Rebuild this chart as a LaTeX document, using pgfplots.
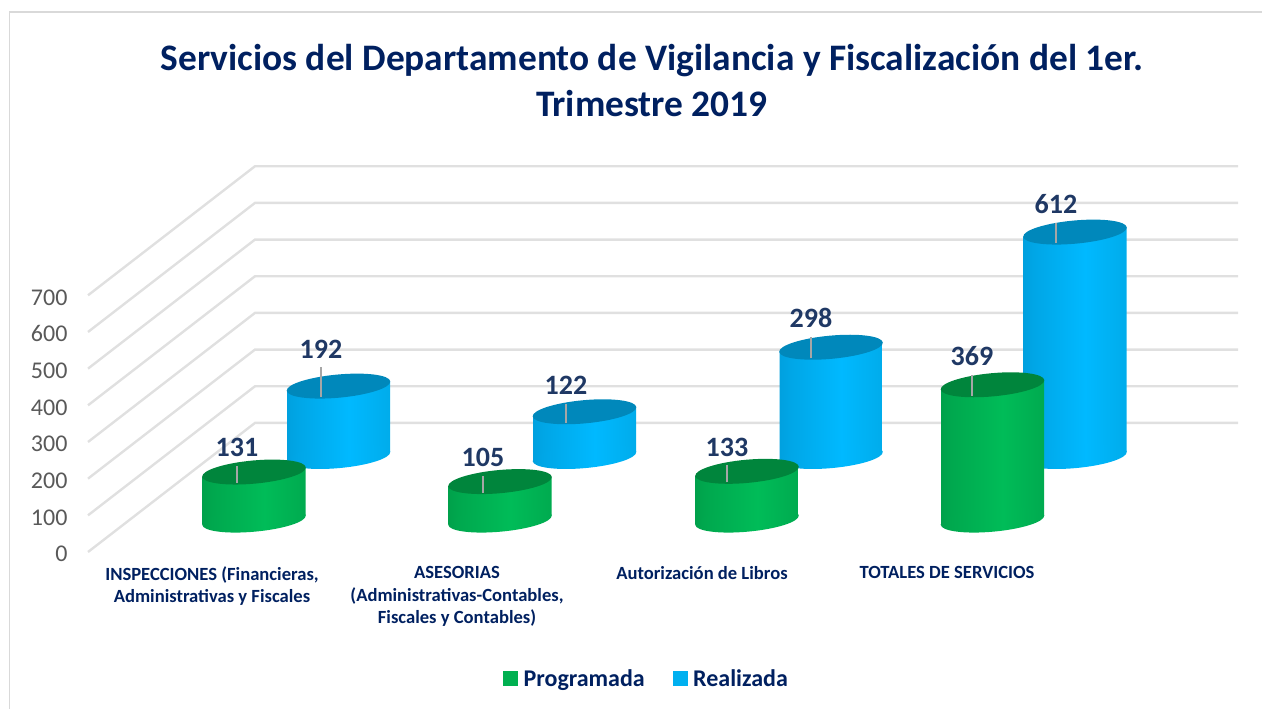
\documentclass[border=0pt]{standalone}
\usepackage{pgfplots}
\usepackage{pgfplotstable}
\usepackage{fontspec}
\setmainfont{Carlito}
\pgfplotsset{compat=1.18}
\definecolor{navy}{HTML}{002060}
\definecolor{lab}{HTML}{1F3864}
\definecolor{tickg}{HTML}{595959}
\definecolor{gridg}{HTML}{E0E0E0}
\definecolor{legG}{HTML}{00B050}
\definecolor{legB}{HTML}{00B0F0}
\definecolor{topG}{HTML}{00853C}
\definecolor{topB}{HTML}{0088BB}
\definecolor{bA}{HTML}{0078A8}\definecolor{bB}{HTML}{0092CC}\definecolor{bC}{HTML}{00A6E6}\definecolor{bD}{HTML}{00B9FF}\definecolor{bE}{HTML}{00AAE8}\definecolor{bF}{HTML}{0088BC}\definecolor{bG}{HTML}{006C98}
\definecolor{gA}{HTML}{00652C}\definecolor{gB}{HTML}{008E42}\definecolor{gC}{HTML}{00A84E}\definecolor{gD}{HTML}{00BC58}\definecolor{gE}{HTML}{00A84E}\definecolor{gF}{HTML}{00803A}\definecolor{gG}{HTML}{00602A}
\pgfdeclarehorizontalshading{cylB}{100bp}{color(0bp)=(bA);color(12bp)=(bB);color(30bp)=(bC);color(55bp)=(bD);color(78bp)=(bE);color(92bp)=(bF);color(100bp)=(bG)}
\pgfdeclarehorizontalshading{cylG}{100bp}{color(0bp)=(gA);color(12bp)=(gB);color(30bp)=(gC);color(55bp)=(gD);color(78bp)=(gE);color(92bp)=(gF);color(100bp)=(gG)}
\pgfdeclareplotmark{cyltop}{\pgftransformrotate{5.2}\pgfpathellipse{\pgfpointorigin}{\pgfpoint{52pt}{0pt}}{\pgfpoint{0pt}{11.6pt}}\pgfusepathqfill}
\pgfdeclareplotmark{cylbotB}{\pgftransformrotate{5.2}\pgfpathellipse{\pgfpointorigin}{\pgfpoint{52pt}{0pt}}{\pgfpoint{0pt}{11.6pt}}\pgfshadepath{cylB}{0}\pgfusepath{discard}}
\pgfdeclareplotmark{cylbotG}{\pgftransformrotate{5.2}\pgfpathellipse{\pgfpointorigin}{\pgfpoint{52pt}{0pt}}{\pgfpoint{0pt}{11.6pt}}\pgfshadepath{cylG}{0}\pgfusepath{discard}}
\pgfplotstableread{
x v
254 131
500 105
747 133
992.5 369
}\programada
\pgfplotstableread{
x v
338.5 192
584.5 122
831 298
1075 612
}\realizada
% side surface of a cylinder, as offsets from its base and top
\pgfplotstableread{
dx k dy
-51.5 0 -12.4
-51.5 1 -12.4
51.5 1 12.4
51.5 0 12.4
}\sides
\newcommand{\cyl}[4]{\addplot[shade,shading=#3,draw=none,forget plot] table[x expr=#1+\thisrow{dx},y expr=\thisrow{k}*#2+\thisrow{dy}+#4] {\sides};}
\newcommand{\leader}[4]{\addplot[color=black!35,line width=1.4pt,forget plot] coordinates {(#1,#2)(#1,#3)} node[pos=1,anchor=south,text=lab,font=\fontsize{28}{30}\selectfont\bfseries,yshift=5pt]{#4};}
\pgfplotsset{geom/.style={at={(88pt,157pt)},anchor=south west,x=1pt,y=0.3667pt,xmin=88,xmax=1238,ymin=0,ymax=1100,clip=false}}
\begin{document}
\begin{tikzpicture}
\path[use as bounding box] (0,0) rectangle (1262pt,709pt);
\draw[color=black!15,line width=1.6pt] (9.5pt,0pt) -- (9.5pt,697pt) -- (1262pt,697pt);
\begin{axis}[
  geom,
  axis line style={draw=none},
  major tick length=0pt,
  xtick={212,457,702,947},
  xticklabels={{INSPECCIONES (Financieras,\\Administrativas y Fiscales},{ASESORIAS\\(Administrativas-Contables,\\Fiscales y Contables)},{Autorización de Libros},{TOTALES DE SERVICIOS}},
  xticklabel style={align=center,anchor=north,yshift=-11pt,text=navy,font=\fontsize{18.6}{22.5}\selectfont\bfseries},
  ytick={0,100,...,700},
  yticklabel style={text=tickg,font=\fontsize{24}{26}\selectfont,anchor=east,xshift=-17pt,yshift=-2pt},
  /pgf/number format/assume math mode=true,
  title={Servicios del Departamento de Vigilancia y Fiscalización del 1er.\\Trimestre 2019},
  title style={at={(0.4904,1.1528)},anchor=center,align=center,text=navy,font=\fontsize{37.4}{46}\selectfont\bfseries},
  legend style={at={(0.4857,-0.3148)},anchor=center,draw=none,fill=none,legend columns=2,
    font=\fontsize{24}{26}\selectfont\bfseries,text=navy,
    /tikz/every even column/.append style={column sep=26pt},
    /tikz/every odd column/.append style={column sep=4pt}},
  legend image code/.code={\fill[#1] (0pt,-6pt) rectangle (14pt,8pt);},
]
\addplot[gridg,line width=2.4pt,forget plot] coordinates {(88,0)(255,352)(1238,352)};
\addplot[gridg,line width=2.4pt,forget plot] coordinates {(88,100)(255,452)(1238,452)};
\addplot[gridg,line width=2.4pt,forget plot] coordinates {(88,200)(255,552)(1238,552)};
\addplot[gridg,line width=2.4pt,forget plot] coordinates {(88,300)(255,652)(1238,652)};
\addplot[gridg,line width=2.4pt,forget plot] coordinates {(88,400)(255,752)(1238,752)};
\addplot[gridg,line width=2.4pt,forget plot] coordinates {(88,500)(255,852)(1238,852)};
\addplot[gridg,line width=2.4pt,forget plot] coordinates {(88,600)(255,952)(1238,952)};
\addplot[gridg,line width=2.4pt,forget plot] coordinates {(88,700)(255,1052)(1238,1052)};
\addlegendimage{legG}
\addlegendentry{Programada}
\addlegendimage{legB}
\addlegendentry{Realizada}
\end{axis}
% Realizada
\begin{axis}[geom,hide axis]
\addplot[only marks,mark=cylbotB,forget plot] table[x=x,y expr=260.4] {\realizada};
\cyl{338.5}{192}{cylB}{260.4}
\cyl{584.5}{122}{cylB}{260.4}
\cyl{831}{298}{cylB}{260.4}
\cyl{1075}{612}{cylB}{260.4}
\addplot[only marks,mark=cyltop,color=topB,forget plot] table[x=x,y expr=\thisrow{v}+260.4] {\realizada};
\end{axis}
% Programada
\begin{axis}[geom,hide axis]
\addplot[only marks,mark=cylbotG,forget plot] table[x=x,y expr=87] {\programada};
\cyl{254}{131}{cylG}{87}
\cyl{500}{105}{cylG}{87}
\cyl{747}{133}{cylG}{87}
\cyl{992.5}{369}{cylG}{87}
\addplot[only marks,mark=cyltop,color=topG,forget plot] table[x=x,y expr=\thisrow{v}+87] {\programada};
\end{axis}
% leader lines and value labels
\begin{axis}[geom,hide axis]
\leader{237}{188}{234}{131}
\leader{483}{162}{208}{105}
\leader{727}{190}{236}{133}
\leader{972}{426}{483}{369}
\leader{321}{422}{504}{192}
\leader{566}{352}{404}{122}
\leader{811}{528}{586}{298}
\leader{1056}{842}{897}{612}
\end{axis}
\end{tikzpicture}
\end{document}
